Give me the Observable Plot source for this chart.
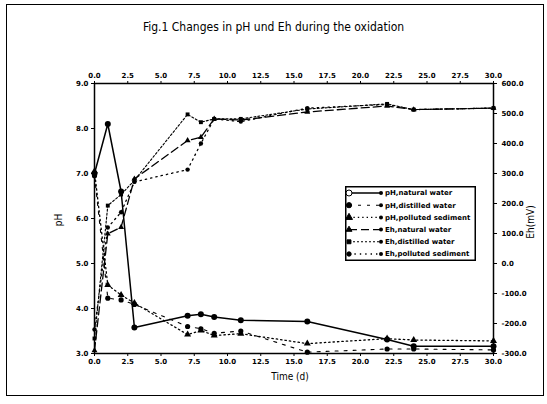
<!DOCTYPE html>
<html><head><meta charset="utf-8">
<script src="https://cdn.jsdelivr.net/npm/d3@7"></script>
<script src="https://cdn.jsdelivr.net/npm/@observablehq/plot@0.6"></script>
<style>
body{margin:0;background:#fff;}
#wrap{position:relative;width:547px;height:404px;overflow:hidden;background:#fff;}
#wrap svg.main{position:absolute;left:0;top:0;}
.border{position:absolute;left:6px;top:4px;width:538px;height:392px;border:1px solid #000;box-sizing:border-box;}
.title{position:absolute;left:0;width:547px;top:20px;text-align:center;font-family:"Liberation Sans Narrow","DejaVu Sans Condensed",sans-serif;font-size:12px;color:#000;}
.lab{position:absolute;font-family:"Liberation Sans Narrow","DejaVu Sans Condensed",sans-serif;font-size:10px;color:#000;white-space:nowrap;}
#legend{position:absolute;left:345px;top:186px;}
</style></head><body>
<div id="wrap"></div>
<script>
// ---- data ----
const days = [0, 1, 2, 3, 7, 8, 9, 11, 16, 22, 24, 30];
const phNatural   = [7.0, 8.1, 6.6, 3.58, 3.84, 3.87, 3.81, 3.74, 3.71, 3.31, 3.16, 3.16];
const phDistilled = [6.95, 4.23, 4.19, 4.09, 3.6, 3.55, 3.45, 3.5, 3.03, 3.1, 3.1, 3.08];
const phPolluted  = [7.05, 4.52, 4.3, 4.12, 3.42, 3.51, 3.40, 3.44, 3.22, 3.33, 3.3, 3.28];
const ehNatural   = [-290, 99, 121, 282, 410, 421, 482, 478, 505, 525, 513, 518];
const ehDistilled = [-250, 193, 230, 277, 497, 471, 482, 482, 515, 532, 513, 518];
const ehPolluted  = [-220, 120, 171, 272, 313, 400, 482, 473, 518, 530, 513, 518];
const seriesNames = ["pH,natural water", "pH,distilled water", "pH,polluted sediment",
                     "Eh,natural water", "Eh,distilled water", "Eh,polluted sediment"];
const xTicks = [0, 2.5, 5, 7.5, 10, 12.5, 15, 17.5, 20, 22.5, 25, 27.5, 30];
const phTicks = [3, 4, 5, 6, 7, 8, 9];
const ehTicks = [-300, -200, -100, 0, 100, 200, 300, 400, 500, 600];

// ---- build ----
const toPh = e => 3 + (e + 300) / 150;
const toEh = p => Math.round((p - 3) * 150 - 300);
const styles = [
  {values: phNatural,   kind: "pH", dash: null,    sw: 1.5, symbol: "circle",   r: 3},
  {values: phDistilled, kind: "pH", dash: "3,6",   sw: 1.1, symbol: "circle",   r: 2.6},
  {values: phPolluted,  kind: "pH", dash: "1.4,3", sw: 1.3, symbol: "triangle", r: 2.6},
  {values: ehNatural,   kind: "Eh", dash: "8,4",   sw: 1.3, symbol: "triangle", r: 2.2},
  {values: ehDistilled, kind: "Eh", dash: "2,2",   sw: 1.1, symbol: "square",   r: 2.2},
  {values: ehPolluted,  kind: "Eh", dash: "1.4,4", sw: 1.3, symbol: "circle",   r: 2.2}
];
const rows = styles.flatMap((s, k) => days.map((t, i) => ({
  t, name: seriesNames[k],
  y: s.kind === "pH" ? s.values[i] : toPh(s.values[i])
})));

const marks = [Plot.frame({stroke: "#000", strokeWidth: 1.5})];
styles.forEach((s, k) => {
  const d = rows.filter(r => r.name === seriesNames[k]);
  marks.push(Plot.line(d, {x: "t", y: "y", stroke: "#000", strokeWidth: s.sw, strokeDasharray: s.dash}));
  marks.push(Plot.dot(d, {x: "t", y: "y", symbol: s.symbol, r: s.r, fill: "#000", stroke: "none"}));
});
const fmt1 = d => d.toFixed(1);
marks.push(
  Plot.axisX({anchor: "bottom", ticks: xTicks, tickFormat: fmt1, tickSize: 3, tickPadding: 3, label: null}),
  Plot.axisX({anchor: "top", ticks: xTicks, tickFormat: fmt1, tickSize: 3, tickPadding: 3, label: null}),
  Plot.axisY({anchor: "left", ticks: phTicks, tickFormat: fmt1, tickSize: 3, tickPadding: 3, label: null}),
  Plot.axisY({anchor: "right", ticks: ehTicks.map(toPh), tickFormat: d => toEh(d).toFixed(1), tickSize: 3, tickPadding: 5, label: null})
);

const chart = Plot.plot({
  width: 547, height: 404,
  marginLeft: 94, marginRight: 54, marginTop: 83, marginBottom: 51,
  x: {domain: [0, 30]},
  y: {domain: [3, 9]},
  style: {fontSize: "7px", fontWeight: "bold", fontFamily: "DejaVu Sans, sans-serif", background: "#fff", color: "#000"},
  marks
});
chart.classList.add("main");
const wrap = document.getElementById("wrap");
wrap.appendChild(chart);

const border = document.createElement("div"); border.className = "border"; wrap.appendChild(border);
const title = document.createElement("div"); title.className = "title";
title.textContent = "Fig.1  Changes in pH und Eh during the oxidation"; wrap.appendChild(title);

function label(text, x, y, rot) {
  const el = document.createElement("div"); el.className = "lab"; el.textContent = text;
  el.style.left = x + "px"; el.style.top = y + "px";
  el.style.transform = "translate(-50%,-50%)" + (rot ? " rotate(" + rot + "deg)" : "");
  wrap.appendChild(el);
}
label("Time (d)", 290, 376, 0);
label("pH", 58, 220, -90);
label("Eh(mV)", 530, 222, -90);

// legend
const lg = d3.select(wrap).append("svg").attr("id", "legend").attr("width", 131).attr("height", 75);
lg.append("rect").attr("x", 0.75).attr("y", 0.75).attr("width", 129.5).attr("height", 73.5)
  .attr("fill", "#fff").attr("stroke", "#000").attr("stroke-width", 1.5);
const sym = {circle: d3.symbolCircle, triangle: d3.symbolTriangle, square: d3.symbolSquare};
styles.forEach((s, k) => {
  const y = 7 + k * 12.2;
  lg.append("line").attr("x1", 4).attr("x2", 36).attr("y1", y).attr("y2", y)
    .attr("stroke", "#000").attr("stroke-width", s.sw).attr("stroke-dasharray", s.dash);
  lg.append("path").attr("d", d3.symbol(sym[s.symbol], Math.PI * s.r * s.r)())
    .attr("transform", `translate(4,${y})`).attr("fill", k === 0 ? "#fff" : "#000").attr("stroke", "#000");
  lg.append("circle").attr("cx", 36).attr("cy", y).attr("r", 2).attr("fill", "#000");
  lg.append("text").attr("x", 40).attr("y", y).attr("dy", "0.35em").text(seriesNames[k])
    .attr("font-size", 7).attr("font-weight", "bold").attr("font-family", "DejaVu Sans, sans-serif");
});
</script>
</body></html>
